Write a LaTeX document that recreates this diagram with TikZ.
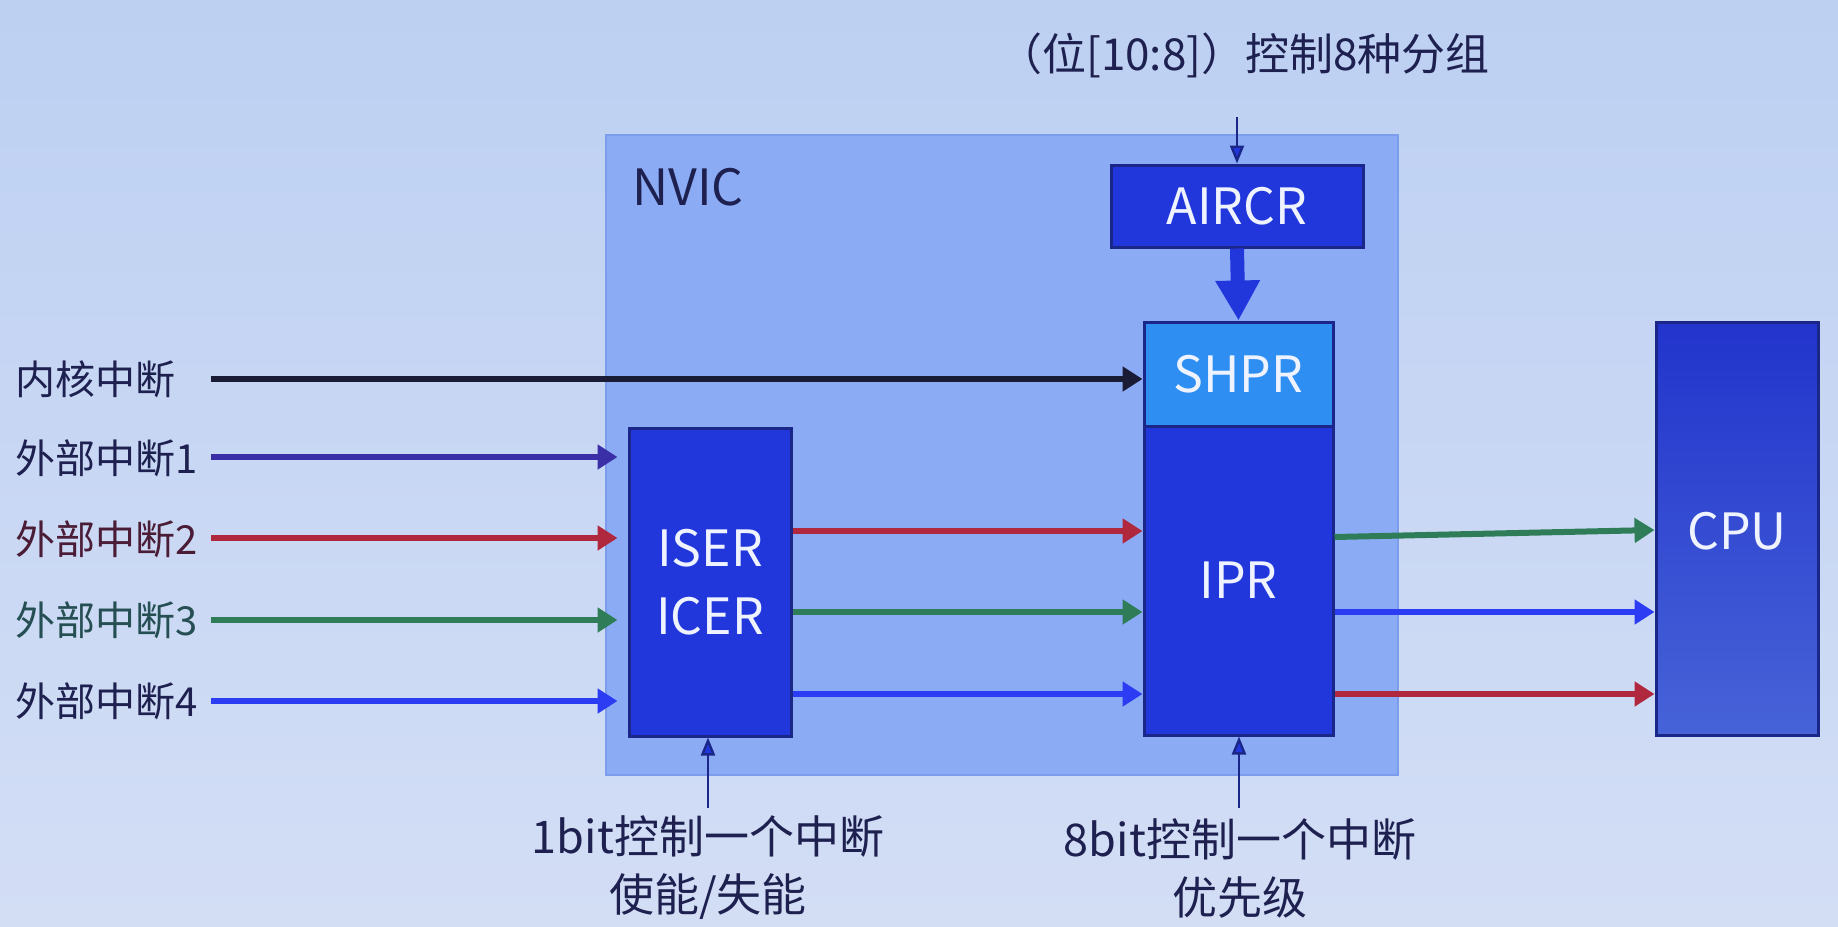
\documentclass[tikz,border=0pt]{standalone}
\usepackage{fontspec}
\setmainfont{Noto Sans CJK SC}
\usetikzlibrary{arrows.meta}
\definecolor{bgtop}{HTML}{BDD0F2}
\definecolor{bgbot}{HTML}{D3DEF5}
\definecolor{nvicfill}{HTML}{8CABF5}
\definecolor{nvicline}{HTML}{7C9CEC}
\definecolor{regfill}{HTML}{2137DC}
\definecolor{regline}{HTML}{1A2688}
\definecolor{shprfill}{HTML}{2E8EF2}
\definecolor{txtnavy}{HTML}{1E2150}
\definecolor{regtxt}{HTML}{EEF3FF}
\definecolor{arblack}{HTML}{1A1C36}
\definecolor{arviolet}{HTML}{3A2FA6}
\definecolor{arred}{HTML}{B0283E}
\definecolor{argreen}{HTML}{2E7D58}
\definecolor{arblue}{HTML}{2C3CF2}
\definecolor{cputop}{HTML}{2234CC}
\definecolor{cpubot}{HTML}{4763D8}
\begin{document}
\begin{tikzpicture}[x=0.5pt,y=-0.5pt,
  reg/.style={draw=regline,line width=1.5pt,fill=regfill,text=regtxt,font=\fontsize{25pt}{30pt}\selectfont,inner sep=0pt,align=center},
  lab/.style={text=txtnavy,font=\fontsize{20pt}{24pt}\selectfont,inner sep=0pt,anchor=west},
  blab/.style={text=txtnavy,font=\fontsize{22.5pt}{29pt}\selectfont,inner sep=0pt,align=center},
  sig/.style={line width=3pt,-{Triangle[length=10pt,width=12pt]}},
  thin/.style={line width=1.2pt,draw=regline,-{Triangle[length=9pt,width=7pt,fill=regfill]}}
]
\useasboundingbox (0,0) rectangle (1838,927);
\shade[top color=bgtop,bottom color=bgbot] (0,0) rectangle (1838,927);
% NVIC region
\node[draw=nvicline,line width=1pt,fill=nvicfill,minimum width=396pt,minimum height=320pt,inner sep=0pt] (nvic) at (1002,455) {};
\node[text=txtnavy,font=\fontsize{25pt}{30pt}\selectfont,inner sep=0pt,anchor=west] (nviclab) at (632,187) {NVIC};
% registers
\node[reg,minimum width=126pt,minimum height=41pt] (aircr) at (1237,206) {AIRCR};
\node[reg,fill=shprfill,minimum width=94.5pt,minimum height=52pt] (shpr) at (1238.5,374) {SHPR};
\node[reg,minimum width=94.5pt,minimum height=154.5pt] (ipr) at (1238.5,580.5) {IPR};
\node[reg,minimum width=81pt,minimum height=154pt] (iser) at (710,582) {ISER\\[4pt]ICER};
\node[draw=regline,line width=1.5pt,top color=cputop,bottom color=cpubot,text=regtxt,font=\fontsize{25pt}{30pt}\selectfont,inner sep=0pt,minimum width=81pt,minimum height=206.5pt] (cpu) at (1737,528.5) {};
\node[text=regtxt,font=\fontsize{25pt}{30pt}\selectfont,inner sep=0pt] (cputxt) at (1737,531) {CPU};
% left labels
\node[lab] (l0) at (15,379) {内核中断};
\node[lab] (l1) at (15,458) {外部中断1};
\node[lab,text=black!40!arred!60!txtnavy] (l2) at (15,539) {外部中断2};
\node[lab,text=argreen!50!txtnavy] (l3) at (15,620) {外部中断3};
\node[lab] (l4) at (15,701) {外部中断4};
\coordinate (s0) at (211,379);
\coordinate (s1) at (211,457);
\coordinate (s2) at (211,538);
\coordinate (s3) at (211,620);
\coordinate (s4) at (211,701);
\draw[sig,arblack] (s0) -- (s0 -| shpr.west);
\draw[sig,arviolet,shorten >=5pt] (s1) -- (s1 -| iser.west);
\draw[sig,arred,shorten >=5pt] (s2) -- (s2 -| iser.west);
\draw[sig,argreen,shorten >=5pt] (s3) -- (s3 -| iser.west);
\draw[sig,arblue,shorten >=5pt] (s4) -- (s4 -| iser.west);
% ISER -> IPR
\draw[sig,arred] (iser.east |- 0,531) -- (ipr.west |- 0,531);
\draw[sig,argreen] (iser.east |- 0,612) -- (ipr.west |- 0,612);
\draw[sig,arblue] (iser.east |- 0,694) -- (ipr.west |- 0,694);
% IPR -> CPU
\draw[sig,argreen] (ipr.east |- 0,537) -- (cpu.west |- 0,530);
\draw[sig,arblue] (ipr.east |- 0,612) -- (cpu.west |- 0,612);
\draw[sig,arred] (ipr.east |- 0,694) -- (cpu.west |- 0,694);
% AIRCR -> SHPR thick arrow
\draw[line width=7pt,draw=regfill,-{Triangle[length=20pt,width=21pt]}] (aircr.south) -- (shpr.north);
% top label
\node[blab,font=\fontsize{22pt}{28pt}\selectfont] (toplab) at (1244,55) {（位[10:8]）控制8种分组};
\coordinate (topstart) at (1237,117);
\draw[thin] (topstart) -- (topstart |- aircr.north);
% bottom labels
\node[blab] (b1) at (708,868) {1bit控制一个中断\\使能/失能};
\node[blab] (b2) at (1240,868) {8bit控制一个中断\\优先级};
\coordinate (bs1) at (708,808);
\coordinate (bs2) at (1239,808);
\draw[thin] (bs1) -- (bs1 |- iser.south);
\draw[thin] (bs2) -- (bs2 |- ipr.south);
\end{tikzpicture}
\end{document}
